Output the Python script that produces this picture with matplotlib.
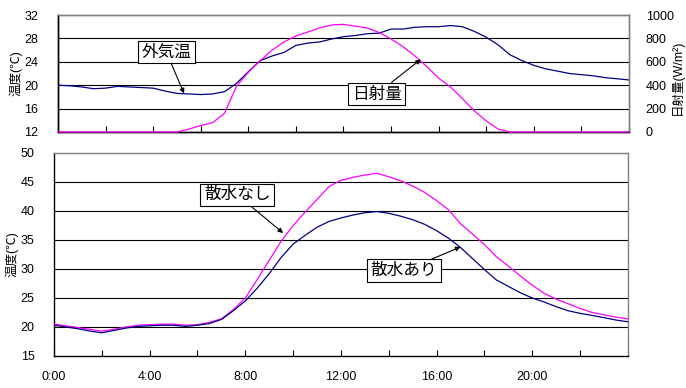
import matplotlib
matplotlib.use("Agg")
import matplotlib.pyplot as plt
import numpy as np

plt.rcParams['font.family'] = ['Liberation Sans', 'Noto Sans CJK JP', 'DejaVu Sans']

# ---- data (half-hour readings) ----
hours = [i * 0.5 for i in range(49)]

outside_temp = [20.0, 19.9, 19.7, 19.4, 19.5, 19.8, 19.7, 19.6, 19.5, 19.0,
                18.6, 18.5, 18.4, 18.5, 18.9, 20.3, 22.3, 24.2, 25.0, 25.6,
                26.8, 27.2, 27.4, 27.9, 28.3, 28.5, 28.8, 28.9, 29.6, 29.6,
                29.9, 30.0, 30.0, 30.2, 30.0, 29.2, 28.2, 26.9, 25.2, 24.2,
                23.4, 22.8, 22.4, 22.0, 21.8, 21.6, 21.3, 21.1, 20.9]

solar = [0, 0, 0, 0, 0, 0, 0, 0, 0, 0,
         0, 25, 55, 80, 160, 390, 510, 610, 700, 770,
         820, 855, 890, 915, 920, 905, 889, 850, 795, 730,
         650, 560, 460, 385, 285, 180, 95, 25, 0, 0,
         0, 0, 0, 0, 0, 0, 0, 0, 0]

with_water = [20.3, 20.0, 19.7, 19.3, 19.0, 19.4, 19.8, 20.1, 20.2, 20.3,
              20.3, 20.1, 20.3, 20.6, 21.3, 22.8, 24.5, 26.7, 29.2, 32.0,
              34.3, 35.8, 37.2, 38.2, 38.8, 39.3, 39.7, 39.9, 39.6, 39.1,
              38.5, 37.7, 36.6, 35.3, 33.7, 31.8, 29.9, 28.1, 27.0, 25.9,
              25.0, 24.3, 23.5, 22.8, 22.35, 22.0, 21.6, 21.2, 20.9]

without_water = [20.5, 20.2, 19.9, 19.6, 19.3, 19.6, 20.0, 20.3, 20.4, 20.5,
                 20.5, 20.3, 20.4, 20.8, 21.4, 23.0, 25.0, 28.2, 31.5, 34.8,
                 37.5, 39.8, 42.0, 44.2, 45.3, 45.8, 46.2, 46.5, 45.9, 45.2,
                 44.3, 43.2, 41.8, 40.2, 37.8, 36.0, 34.2, 32.1, 30.5, 28.8,
                 27.2, 25.8, 24.8, 24.0, 23.2, 22.5, 22.1, 21.7, 21.4]

xtick_pos = list(range(0, 25, 2))
xtick_labels = ['0:00', '', '4:00', '', '8:00', '', '12:00', '', '16:00', '', '20:00', '', '']
top_yticks = [12, 16, 20, 24, 28, 32]
solar_ticks = [0, 200, 400, 600, 800, 1000]
bot_yticks = [15, 20, 25, 30, 35, 40, 45, 50]

NAVY = '#000080'
MAG = '#FF00FF'
GRAY = '#808080'

fig = plt.figure(figsize=(6.86, 3.88), dpi=100)

def style(ax):
    ax.spines['top'].set_color(GRAY)
    ax.spines['right'].set_color(GRAY)
    ax.spines['left'].set_color('black')
    ax.spines['bottom'].set_color('black')
    for s in ax.spines.values():
        s.set_linewidth(1.0)

# ---- top panel ----
ax1 = fig.add_axes([0.0845, 0.6598, 0.8324, 0.3015])
ax1.set_xlim(0, 24)
ax1.set_ylim(12, 32)
ax1.set_yticks(top_yticks)
for v in top_yticks[1:-1]:
    ax1.axhline(v, color='black', lw=0.8, zorder=1)
ax1.plot(hours, outside_temp, color=NAVY, lw=0.9, zorder=3)
ax1.set_xticks(xtick_pos)
ax1.set_xticklabels([])
ax1.tick_params(axis='x', direction='in', length=4, color='black')
ax1.tick_params(axis='y', length=0, pad=14, labelsize=9)
style(ax1)
ax1.set_ylabel('温度(℃)', fontsize=9)
ax1.yaxis.set_label_coords(-0.062, 0.5)

ax2 = ax1.twinx()
ax2.set_ylim(0, 1000)
ax2.set_yticks(solar_ticks)
ax2.plot(hours, solar, color=MAG, lw=0.9, zorder=4, clip_on=False)
ax2.tick_params(axis='y', length=0, pad=12, labelsize=9)
style(ax2)
ax2.set_xlim(0, 24)

bbox = dict(boxstyle='square,pad=0.22', fc='white', ec='black', lw=0.8)
arrow = dict(arrowstyle='-|>', color='black', lw=0.8, mutation_scale=7, shrinkA=0, shrinkB=0)

ax2.annotate('外気温', xy=(5.3, 18.6), xycoords=ax1.transData,
             xytext=(4.55, 25.7), textcoords=ax1.transData,
             ha='center', va='center', fontsize=12, bbox=bbox, arrowprops=arrow, zorder=5)
ax2.annotate('日射量', xy=(15.25, 621), xytext=(13.4, 325),
             ha='center', va='center', fontsize=12, bbox=bbox, arrowprops=arrow, zorder=5)

fig.text(0.997, 0.80, '日射量(W/m²)', rotation=90, ha='right', va='center', fontsize=9)

# ---- bottom panel ----
ax3 = fig.add_axes([0.0787, 0.0825, 0.8367, 0.5232])
ax3.set_xlim(0, 24)
ax3.set_ylim(15, 50)
ax3.set_yticks(bot_yticks)
for v in bot_yticks[1:-1]:
    ax3.axhline(v, color='black', lw=0.8, zorder=1)
ax3.plot(hours, without_water, color=MAG, lw=0.9, zorder=3)
ax3.plot(hours, with_water, color=NAVY, lw=0.9, zorder=3)
ax3.set_xticks(xtick_pos)
ax3.set_xticklabels(xtick_labels)
ax3.tick_params(axis='x', direction='in', length=4, pad=11, labelsize=9)
ax3.tick_params(axis='y', length=0, pad=14, labelsize=9)
style(ax3)
ax3.set_ylabel('温度(℃)', fontsize=9)
ax3.yaxis.set_label_coords(-0.061, 0.5)

ax3.annotate('散水なし', xy=(9.58, 36.2), xytext=(7.66, 42.8),
             ha='center', va='center', fontsize=12, bbox=bbox, arrowprops=arrow, zorder=5)
ax3.annotate('散水あり', xy=(17.0, 33.8), xytext=(14.64, 29.7),
             ha='center', va='center', fontsize=12, bbox=bbox, arrowprops=arrow, zorder=5)

fig.savefig('out.png', dpi=100)
